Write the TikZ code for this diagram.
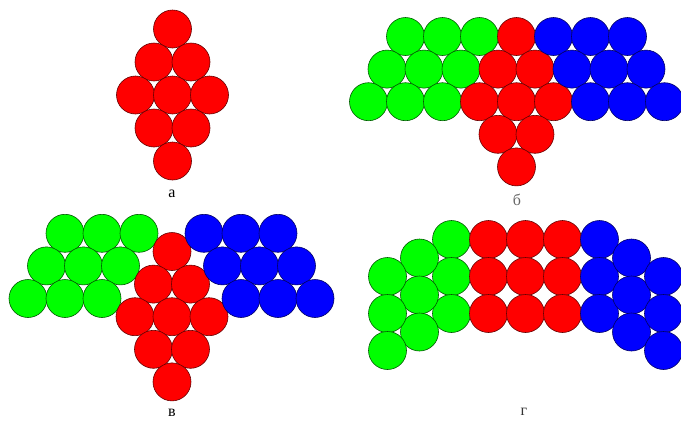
\documentclass[tikz,border=0pt]{standalone}
\usepackage{fontspec}
\setmainfont{Liberation Serif}
\definecolor{cred}{RGB}{255,0,0}
\definecolor{cgreen}{RGB}{0,255,0}
\definecolor{cblue}{RGB}{0,0,255}
\begin{document}
\begin{tikzpicture}[x=1pt,y=-1pt,
  rb/.style={fill=cred,draw=cred!40!black,line width=0.6pt},
  gb/.style={fill=cgreen,draw=cgreen!35!black,line width=0.6pt},
  bb/.style={fill=cblue,draw=cblue!40!black,line width=0.6pt},
  lab/.style={font=\fontsize{16}{16}\selectfont,inner sep=0pt}]
\useasboundingbox (0,0) rectangle (681,426);
\def\R{19pt}
% ---- a
\foreach \x/\y in {172.5/29,154/62,191/62,135.5/95,172.5/95,209.5/95,154/128,191/128,172.5/161}
  \path[rb] (\x,\y) circle[radius=\R];
\node[lab] (la) at (172,194) {а};
% ---- b
\foreach \k/\r in {-3/0,-2/0,-1/0,-3.5/1,-2.5/1,-1.5/1,-4/2,-3/2,-2/2}
  \path[gb] ({516.5+37*\k},{36.5+32.6*\r}) circle[radius=\R];
\foreach \k/\r in {0/0,-0.5/1,0.5/1,-1/2,0/2,1/2,-0.5/3,0.5/3,0/4}
  \path[rb] ({516.5+37*\k},{36.5+32.6*\r}) circle[radius=\R];
\foreach \k/\r in {1/0,2/0,3/0,1.5/1,2.5/1,3.5/1,2/2,3/2,4/2}
  \path[bb] ({516.5+37*\k},{36.5+32.6*\r}) circle[radius=\R];
\node[lab,text=black!60] (lb) at (517,200) {б};
% ---- v
\foreach \x/\y in {65/233.3,102/233.3,139/233.3,46.5/265.9,83.5/265.9,120.5/265.9,28/298.5,65/298.5,102/298.5}
  \path[gb] (\x,\y) circle[radius=\R];
\foreach \k/\r in {0/0,-0.5/1,0.5/1,-1/2,0/2,1/2,-0.5/3,0.5/3,0/4}
  \path[rb] ({172+37*\k},{251.5+32.6*\r}) circle[radius=\R];
\foreach \x/\y in {204/233.3,241/233.3,278/233.3,222.5/265.9,259.5/265.9,296.5/265.9,241/298.5,278/298.5,315/298.5}
  \path[bb] (\x,\y) circle[radius=\R];
\node[lab] (lv) at (172,413) {в};
% ---- g
\foreach \x/\y in {451.5/239.5,451.5/276.5,451.5/313.5,419.5/258,419.5/295,419.5/332,387.5/276.5,387.5/313.5,387.5/350.5}
  \path[gb] (\x,\y) circle[radius=\R];
\foreach \x in {488.5,525.5,562.5}
  \foreach \y in {239.5,276.5,313.5}
    \path[rb] (\x,\y) circle[radius=\R];
\foreach \x/\y in {599.5/239.5,599.5/276.5,599.5/313.5,631.5/258,631.5/295,631.5/332,663.5/276.5,663.5/313.5,663.5/350.5}
  \path[bb] (\x,\y) circle[radius=\R];
\node[lab,text=black!80] (lg) at (524,412) {г};
\end{tikzpicture}
\end{document}
